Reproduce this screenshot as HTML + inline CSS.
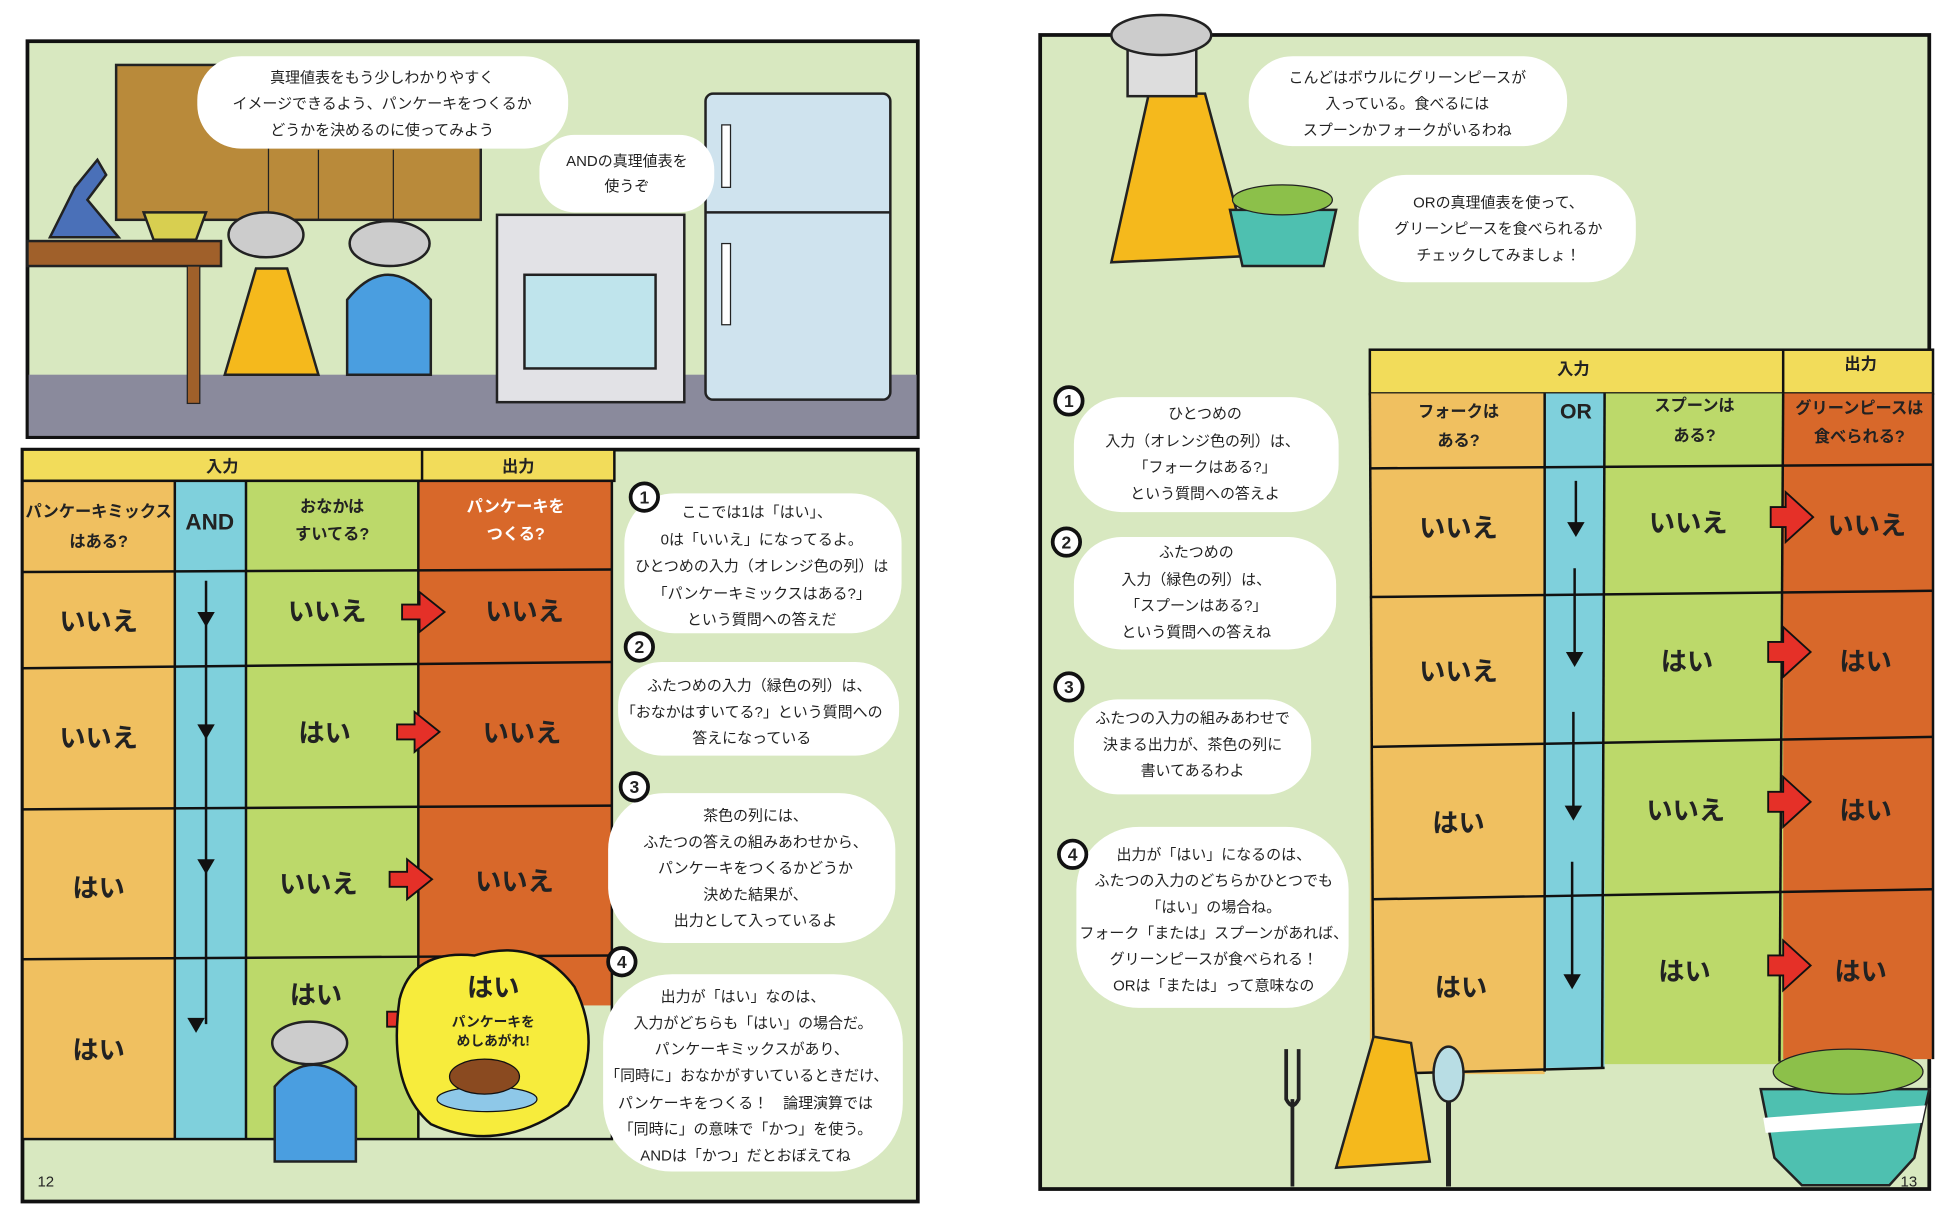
<!DOCTYPE html>
<html><head><meta charset="utf-8"><style>
html,body{margin:0;padding:0;background:#fff;}
svg{display:block;}
text{font-family:"Liberation Sans","Noto Sans CJK JP",sans-serif;fill:#222;}
.b{font-size:12px;text-anchor:middle;}
.v{font-size:21px;font-weight:bold;text-anchor:middle;}
.h{font-size:13px;font-weight:bold;text-anchor:middle;}
.nd{font-size:14px;font-weight:bold;text-anchor:middle;}
</style></head><body>
<svg width="1948" height="1224" viewBox="0 0 1560 980" preserveAspectRatio="none" xmlns="http://www.w3.org/2000/svg">
<defs><g id="c"><circle r="11" fill="#fff" stroke="#111" stroke-width="3"/></g></defs>
<rect width="1560" height="980" fill="#fff"/>
<!-- LEFT TOP PANEL -->
<rect x="22" y="33" width="713" height="317" fill="#d8e8c0" stroke="#111" stroke-width="3"/>
<rect x="23" y="300" width="711" height="49" fill="#8a8a9c"/>
<rect x="93" y="52" width="292" height="124" fill="#b98a3a" stroke="#222" stroke-width="2"/>
<line x1="215" y1="52" x2="215" y2="176" stroke="#222"/><line x1="255" y1="120" x2="255" y2="176" stroke="#222"/><line x1="315" y1="120" x2="315" y2="176" stroke="#222"/>
<rect x="22" y="193" width="155" height="20" fill="#a0602a" stroke="#222" stroke-width="2"/>
<rect x="150" y="213" width="10" height="110" fill="#a0602a" stroke="#222"/>
<path d="M40 190 L60 150 L78 128 L85 140 L70 160 L95 190Z" fill="#4a70b8" stroke="#222" stroke-width="2"/>
<path d="M115 170 h50 l-8 22 h-34z" fill="#d8cf50" stroke="#222" stroke-width="2"/>
<rect x="398" y="172" width="150" height="150" fill="#e2e2e6" stroke="#222" stroke-width="2"/>
<rect x="420" y="220" width="105" height="75" fill="#bfe4ec" stroke="#222" stroke-width="2"/>
<rect x="565" y="75" width="148" height="245" rx="6" fill="#cfe3ee" stroke="#222" stroke-width="2"/>
<line x1="565" y1="170" x2="713" y2="170" stroke="#222" stroke-width="2"/>
<rect x="578" y="100" width="7" height="50" fill="#fff" stroke="#222"/><rect x="578" y="195" width="7" height="65" fill="#fff" stroke="#222"/>
<path d="M180 300 L205 215 L230 215 L255 300Z" fill="#f5b91c" stroke="#222" stroke-width="2"/>
<path d="M278 300 L278 240 Q310 200 345 240 L345 300Z" fill="#4a9ee0" stroke="#222" stroke-width="2"/>
<ellipse cx="213" cy="188" rx="30" ry="18" fill="#ccc" stroke="#222" stroke-width="2"/>
<ellipse cx="312" cy="195" rx="32" ry="18" fill="#ccc" stroke="#222" stroke-width="2"/>
<rect x="158" y="45" width="297" height="74" rx="35" fill="#fff"/>
<text class="b" x="306" y="66">真理値表をもう少しわかりやすく</text>
<text class="b" x="306" y="87">イメージできるよう、パンケーキをつくるか</text>
<text class="b" x="306" y="108">どうかを決めるのに使ってみよう</text>
<rect x="432" y="108" width="140" height="62" rx="28" fill="#fff"/>
<text class="b" x="502" y="133">ANDの真理値表を</text>
<text class="b" x="502" y="153">使うぞ</text>
<!-- LEFT BOTTOM PANEL -->
<rect x="18" y="360" width="717" height="602" fill="#d8e8c0" stroke="#111" stroke-width="3"/>
<rect x="18" y="360" width="474" height="25" fill="#f2dc5a" stroke="#111" stroke-width="2"/>
<line x1="338" y1="360" x2="338" y2="385" stroke="#111" stroke-width="2"/>
<text class="h" x="178" y="378">入力</text><text class="h" x="415" y="378">出力</text>
<rect x="18" y="385" width="122" height="527" fill="#f0c060"/>
<rect x="140" y="385" width="57" height="527" fill="#7fd0dc"/>
<rect x="197" y="385" width="138" height="527" fill="#bcd96a"/>
<rect x="335" y="385" width="155" height="420" fill="#d8682a"/>
<g stroke="#111" stroke-width="2" fill="none">
<rect x="18" y="385" width="472" height="527"/>
<line x1="140" y1="385" x2="140" y2="912"/><line x1="197" y1="385" x2="197" y2="912"/><line x1="335" y1="385" x2="335" y2="912"/>
<line x1="18" y1="458" x2="490" y2="456"/><line x1="18" y1="535" x2="490" y2="530"/><line x1="18" y1="648" x2="490" y2="645"/><line x1="18" y1="768" x2="490" y2="765"/>
<line x1="165" y1="465" x2="165" y2="820"/>
</g>
<g fill="#111"><path d="M158 490h14l-7 12z"/><path d="M158 580h14l-7 12z"/><path d="M158 688h14l-7 12z"/><path d="M150 815h14l-7 12z"/></g>
<text class="h" x="79" y="414">パンケーキミックス</text><text class="h" x="79" y="438">はある?</text>
<text x="168" y="424" style="font-size:18px;font-weight:bold;text-anchor:middle">AND</text>
<text class="h" x="266" y="410">おなかは</text><text class="h" x="266" y="432">すいてる?</text>
<text class="h" x="413" y="410" style="fill:#fff">パンケーキを</text><text class="h" x="413" y="432" style="fill:#fff">つくる?</text>
<text class="v" x="79" y="505">いいえ</text><text class="v" x="262" y="497">いいえ</text><text class="v" x="420" y="497">いいえ</text>
<text class="v" x="79" y="598">いいえ</text><text class="v" x="260" y="594">はい</text><text class="v" x="418" y="594">いいえ</text>
<text class="v" x="79" y="718">はい</text><text class="v" x="255" y="715">いいえ</text><text class="v" x="412" y="713">いいえ</text>
<text class="v" x="79" y="848">はい</text><text class="v" x="253" y="804">はい</text>
<g fill="#e53028" stroke="#111" stroke-width="1.5"><path d="M322 484h14v-10l20 16-20 16v-10h-14z"/><path d="M318 580h14v-10l20 16-20 16v-10h-14z"/><path d="M312 698h14v-10l20 16-20 16v-10h-14z"/><path d="M310 810h14v-10l20 16-20 16v-10h-14z"/></g>
<path d="M320 800 Q330 760 380 765 Q430 750 460 790 Q485 840 455 885 Q400 925 345 900 Q310 870 320 800Z" fill="#f7ec3c" stroke="#111" stroke-width="2"/>
<text class="v" x="395" y="798">はい</text>
<text x="395" y="822" style="font-size:11px;font-weight:bold;text-anchor:middle">パンケーキを</text>
<text x="395" y="837" style="font-size:11px;font-weight:bold;text-anchor:middle">めしあがれ!</text>
<ellipse cx="390" cy="880" rx="40" ry="10" fill="#8ec8e8" stroke="#111"/>
<ellipse cx="388" cy="862" rx="28" ry="14" fill="#8a4a20" stroke="#111"/>
<path d="M220 930 L220 870 Q250 835 285 870 L285 930Z" fill="#4a9ee0" stroke="#222" stroke-width="2"/>
<ellipse cx="248" cy="835" rx="30" ry="17" fill="#ccc" stroke="#222" stroke-width="2"/>
<!-- left bubbles -->
<g fill="#fff"><rect x="500" y="395" width="222" height="112" rx="40"/><rect x="495" y="530" width="225" height="75" rx="35"/><rect x="487" y="635" width="230" height="120" rx="45"/><rect x="483" y="780" width="240" height="158" rx="55"/></g>
<use href="#c" x="516" y="398"/><text class="nd" x="516" y="403">1</text>
<use href="#c" x="512" y="518"/><text class="nd" x="512" y="523">2</text>
<use href="#c" x="508" y="630"/><text class="nd" x="508" y="635">3</text>
<use href="#c" x="498" y="770"/><text class="nd" x="498" y="775">4</text>
<text class="b" x="606" y="414">ここでは1は「はい」、</text><text class="b" x="610" y="436">0は「いいえ」になってるよ。</text><text class="b" x="610" y="457">ひとつめの入力（オレンジ色の列）は</text><text class="b" x="610" y="479">「パンケーキミックスはある?」</text><text class="b" x="610" y="500">という質問への答えだ</text>
<text class="b" x="608" y="553">ふたつめの入力（緑色の列）は、</text><text class="b" x="602" y="574">「おなかはすいてる?」という質問への</text><text class="b" x="602" y="595">答えになっている</text>
<text class="b" x="605" y="657">茶色の列には、</text><text class="b" x="605" y="678">ふたつの答えの組みあわせから、</text><text class="b" x="605" y="699">パンケーキをつくるかどうか</text><text class="b" x="605" y="720">決めた結果が、</text><text class="b" x="605" y="741">出力として入っているよ</text>
<text class="b" x="595" y="802">出力が「はい」なのは、</text><text class="b" x="603" y="823">入力がどちらも「はい」の場合だ。</text><text class="b" x="602" y="844">パンケーキミックスがあり、</text><text class="b" x="598" y="865">「同時に」おなかがすいているときだけ、</text><text class="b" x="597" y="887">パンケーキをつくる！　論理演算では</text><text class="b" x="597" y="908">「同時に」の意味で「かつ」を使う。</text><text class="b" x="597" y="929">ANDは「かつ」だとおぼえてね</text>
<text x="30" y="950" style="font-size:12px">12</text>
<!-- RIGHT PAGE -->
<rect x="833" y="28" width="712" height="924" fill="#d8e8c0" stroke="#111" stroke-width="3"/>
<path d="M890 210 L920 75 L965 75 L1000 205Z" fill="#f5b91c" stroke="#222" stroke-width="2"/>
<rect x="903" y="35" width="55" height="42" fill="#ddd" stroke="#222" stroke-width="2"/>
<ellipse cx="930" cy="28" rx="40" ry="16" fill="#ccc" stroke="#222" stroke-width="2"/>
<path d="M985 168 h85 l-10 45 h-65z" fill="#4ec0b0" stroke="#222" stroke-width="2"/>
<ellipse cx="1027" cy="160" rx="40" ry="12" fill="#8cc04a" stroke="#222"/>
<rect x="1000" y="45" width="255" height="72" rx="35" fill="#fff"/>
<text class="b" x="1127" y="66">こんどはボウルにグリーンピースが</text><text class="b" x="1127" y="87">入っている。食べるには</text><text class="b" x="1127" y="108">スプーンかフォークがいるわね</text>
<rect x="1088" y="140" width="222" height="86" rx="38" fill="#fff"/>
<text class="b" x="1200" y="166">ORの真理値表を使って、</text><text class="b" x="1200" y="187">グリーンピースを食べられるか</text><text class="b" x="1200" y="208">チェックしてみましょ！</text>
<rect x="1097" y="280" width="451" height="35" fill="#f2dc5a" stroke="#111" stroke-width="2"/>
<line x1="1428" y1="280" x2="1428" y2="315" stroke="#111" stroke-width="2"/>
<text class="h" x="1260" y="300">入力</text><text class="h" x="1490" y="296">出力</text>
<rect x="1097" y="315" width="140" height="545" fill="#f0c060"/>
<rect x="1237" y="315" width="48" height="540" fill="#7fd0dc"/>
<rect x="1285" y="315" width="143" height="537" fill="#bcd96a"/>
<rect x="1428" y="315" width="120" height="533" fill="#d8682a"/>
<g stroke="#111" stroke-width="2" fill="none">
<line x1="1097" y1="315" x2="1100" y2="860"/><line x1="1237" y1="315" x2="1237" y2="858"/><line x1="1285" y1="315" x2="1283" y2="855"/><line x1="1428" y1="315" x2="1425" y2="850"/><line x1="1548" y1="315" x2="1548" y2="848"/>
<line x1="1097" y1="375" x2="1548" y2="372"/><line x1="1097" y1="478" x2="1548" y2="473"/><line x1="1098" y1="598" x2="1548" y2="590"/><line x1="1099" y1="720" x2="1548" y2="712"/><line x1="1100" y1="860" x2="1285" y2="855"/>
<line x1="1262" y1="385" x2="1262" y2="425"/><line x1="1261" y1="455" x2="1261" y2="530"/><line x1="1260" y1="570" x2="1260" y2="650"/><line x1="1259" y1="690" x2="1259" y2="785"/>
</g>
<g fill="#111"><path d="M1255 418h14l-7 12z"/><path d="M1254 522h14l-7 12z"/><path d="M1253 645h14l-7 12z"/><path d="M1252 780h14l-7 12z"/></g>
<text class="h" x="1168" y="334">フォークは</text><text class="h" x="1168" y="357">ある?</text>
<text x="1262" y="335" style="font-size:17px;font-weight:bold;text-anchor:middle">OR</text>
<text class="h" x="1357" y="329">スプーンは</text><text class="h" x="1357" y="353">ある?</text>
<text class="h" x="1489" y="331">グリーンピースは</text><text class="h" x="1489" y="354">食べられる?</text>
<text class="v" x="1168" y="430">いいえ</text><text class="v" x="1352" y="426">いいえ</text><text class="v" x="1495" y="428">いいえ</text>
<text class="v" x="1168" y="545">いいえ</text><text class="v" x="1351" y="537">はい</text><text class="v" x="1494" y="537">はい</text>
<text class="v" x="1168" y="666">はい</text><text class="v" x="1350" y="656">いいえ</text><text class="v" x="1494" y="656">はい</text>
<text class="v" x="1170" y="798">はい</text><text class="v" x="1349" y="785">はい</text><text class="v" x="1490" y="785">はい</text>
<g fill="#e53028" stroke="#111" stroke-width="1.5"><path d="M1418 406h12v-12l22 20-22 20v-12h-12z"/><path d="M1416 514h12v-12l22 20-22 20v-12h-12z"/><path d="M1416 634h12v-12l22 20-22 20v-12h-12z"/><path d="M1416 765h12v-12l22 20-22 20v-12h-12z"/></g>
<g fill="#fff"><rect x="860" y="318" width="212" height="92" rx="38"/><rect x="860" y="430" width="210" height="90" rx="38"/><rect x="860" y="560" width="190" height="76" rx="35"/><rect x="862" y="662" width="218" height="145" rx="50"/></g>
<use href="#c" x="856" y="321"/><text class="nd" x="856" y="326">1</text>
<use href="#c" x="854" y="434"/><text class="nd" x="854" y="439">2</text>
<use href="#c" x="856" y="550"/><text class="nd" x="856" y="555">3</text>
<use href="#c" x="859" y="684"/><text class="nd" x="859" y="689">4</text>
<text class="b" x="965" y="335">ひとつめの</text><text class="b" x="963" y="357">入力（オレンジ色の列）は、</text><text class="b" x="965" y="378">「フォークはある?」</text><text class="b" x="965" y="399">という質問への答えよ</text>
<text class="b" x="958" y="446">ふたつめの</text><text class="b" x="958" y="468">入力（緑色の列）は、</text><text class="b" x="958" y="489">「スプーンはある?」</text><text class="b" x="958" y="510">という質問への答えね</text>
<text class="b" x="955" y="579">ふたつの入力の組みあわせで</text><text class="b" x="955" y="600">決まる出力が、茶色の列に</text><text class="b" x="955" y="621">書いてあるわよ</text>
<text class="b" x="972" y="688">出力が「はい」になるのは、</text><text class="b" x="972" y="709">ふたつの入力のどちらかひとつでも</text><text class="b" x="972" y="730">「はい」の場合ね。</text><text class="b" x="972" y="751">フォーク「または」スプーンがあれば、</text><text class="b" x="972" y="772">グリーンピースが食べられる！</text><text class="b" x="972" y="793">ORは「または」って意味なの</text>
<path d="M1030 840 v40 q5 10 10 0 v-40 M1035 880 v70" stroke="#222" stroke-width="3" fill="none"/>
<ellipse cx="1160" cy="860" rx="12" ry="22" fill="#b8dde4" stroke="#222" stroke-width="2"/>
<line x1="1160" y1="882" x2="1160" y2="950" stroke="#222" stroke-width="4"/>
<path d="M1070 935 L1100 830 L1130 835 L1145 930Z" fill="#f5b91c" stroke="#222" stroke-width="2"/>
<path d="M1410 872 h135 l-12 55 l-20 22 h-70 l-22 -22z" fill="#4ec0b0" stroke="#222" stroke-width="2"/>
<path d="M1412 895 l130 -10 l-3 14 l-125 8z" fill="#fff"/>
<ellipse cx="1480" cy="858" rx="60" ry="18" fill="#8cc04a" stroke="#222"/>
<text x="1522" y="950" style="font-size:12px">13</text>
</svg>
</body></html>
